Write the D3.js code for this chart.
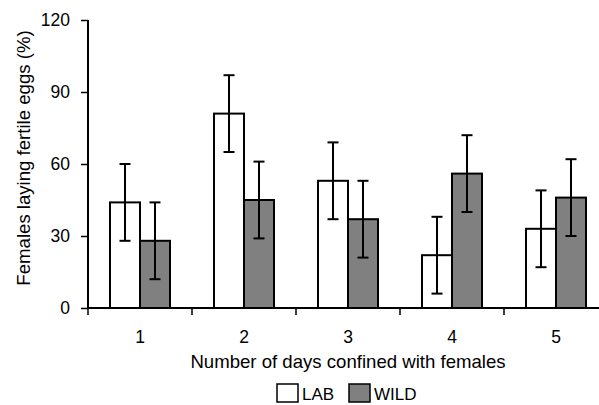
<!DOCTYPE html>
<html>
<head>
<meta charset="utf-8">
<script src="https://cdn.jsdelivr.net/npm/d3@7"></script>
<style>
  body { margin: 0; background: #fff; }
  svg { display: block; font-family: "Liberation Sans", Arial, sans-serif; }
</style>
</head>
<body>
<svg width="599" height="405"></svg>
<script>
const CATEGORIES = ["1", "2", "3", "4", "5"]
const SERIES = ["LAB", "WILD"]
const LAB_VALUES = [44, 81, 53, 22, 33]
const WILD_VALUES = [28, 45, 37, 56, 46]
const LAB_ERRORS = [16, 16, 16, 16, 16]
const WILD_ERRORS = [16, 16, 16, 16, 16]
const Y_TICKS = [0, 30, 60, 90, 120]

const FILLS = { LAB: "#ffffff", WILD: "#808080" }
const [LEFT, RIGHT, TOP, BOTTOM] = [88, 608, 20, 308]

const rows = CATEGORIES.map((cat, i) => ({
  cat,
  bars: [
    { series: "LAB", value: LAB_VALUES[i], err: LAB_ERRORS[i] },
    { series: "WILD", value: WILD_VALUES[i], err: WILD_ERRORS[i] },
  ],
}))

const svg = d3.select("svg")

const x = d3.scaleBand().domain(CATEGORIES).range([LEFT, RIGHT])
const y = d3.scaleLinear().domain([0, 120]).range([BOTTOM, TOP])
const inner = d3.scaleBand().domain(SERIES).range([-30, 30])

// bars
const groups = svg.selectAll("g.group")
  .data(rows)
  .enter()
  .append("g")
  .attr("class", "group")
  .attr("transform", (d) => `translate(${x(d.cat) + x.bandwidth() / 2},0)`)

groups.selectAll("rect")
  .data((d) => d.bars)
  .enter()
  .append("rect")
  .attr("x", (b) => inner(b.series))
  .attr("width", inner.bandwidth())
  .attr("y", (b) => y(b.value))
  .attr("height", (b) => y(0) - y(b.value))
  .attr("fill", (b) => FILLS[b.series])
  .attr("stroke", "#000")
  .attr("stroke-width", 2)

// error bars
const errs = groups.selectAll("g.err")
  .data((d) => d.bars)
  .enter()
  .append("g")
  .attr("class", "err")
  .attr("stroke", "#000")
  .attr("stroke-width", 2)
  .attr("transform", (b) => `translate(${inner(b.series) + inner.bandwidth() / 2},0)`)

errs.append("line")
  .attr("y1", (b) => y(b.value + b.err))
  .attr("y2", (b) => y(b.value - b.err))
errs.append("line")
  .attr("x1", -5.5).attr("x2", 5.5)
  .attr("y1", (b) => y(b.value + b.err))
  .attr("y2", (b) => y(b.value + b.err))
errs.append("line")
  .attr("x1", -5.5).attr("x2", 5.5)
  .attr("y1", (b) => y(b.value - b.err))
  .attr("y2", (b) => y(b.value - b.err))

// y axis
const yAxis = svg.append("g")
  .attr("transform", `translate(${LEFT},0)`)
  .call(d3.axisLeft(y).tickValues(Y_TICKS).tickSize(7).tickPadding(11))
yAxis.select(".domain").attr("d", `M0,${TOP}V${BOTTOM}`).attr("stroke-width", 2)
yAxis.selectAll(".tick line").attr("stroke-width", 1.5)
yAxis.selectAll("text").attr("font-size", 17.5).attr("font-family", null).attr("fill", "#000")

// x axis: ticks sit on the band edges
const xAxis = svg.append("g")
  .attr("transform", `translate(0,${BOTTOM})`)
  .call(d3.axisBottom(x).tickSize(0).tickPadding(23))
xAxis.select(".domain").attr("d", `M${LEFT},0H${RIGHT}`).attr("stroke-width", 2)
xAxis.selectAll("text").attr("font-size", 17.5).attr("font-family", null).attr("fill", "#000")
xAxis.selectAll("line.edge")
  .data(CATEGORIES)
  .enter()
  .append("line")
  .attr("class", "edge")
  .attr("x1", (c) => x(c)).attr("x2", (c) => x(c))
  .attr("y1", 0).attr("y2", 7)
  .attr("stroke", "#000")
  .attr("stroke-width", 1.5)

// axis titles
svg.append("text")
  .attr("x", 348)
  .attr("y", 368)
  .attr("text-anchor", "middle")
  .attr("font-size", 18.6)
  .text("Number of days confined with females")

svg.append("text")
  .attr("transform", `translate(30,${(TOP + BOTTOM) / 2 - 6}) rotate(-90)`)
  .attr("text-anchor", "middle")
  .attr("font-size", 18.6)
  .text("Females laying fertile eggs (%)")

// legend
const legend = svg.append("g").attr("transform", "translate(277,384)")
const legendOffsets = [0, 72]
SERIES.forEach((s, i) => {
  const g = legend.append("g").attr("transform", `translate(${legendOffsets[i]},0)`)
  g.append("rect")
    .attr("width", 21).attr("height", 18)
    .attr("fill", FILLS[s])
    .attr("stroke", "#000")
    .attr("stroke-width", 1.5)
  g.append("text")
    .attr("x", 25).attr("y", 16)
    .attr("font-size", 17)
    .text(s)
})
</script>
</body>
</html>
